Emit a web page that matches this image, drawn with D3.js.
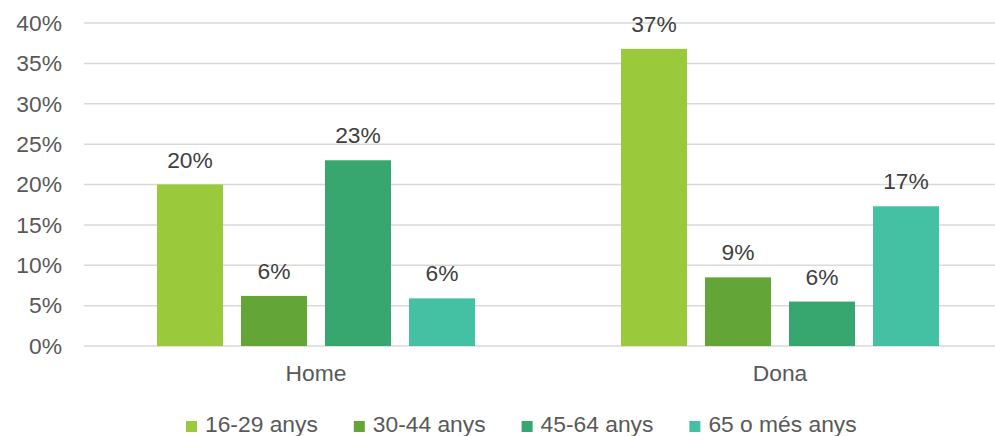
<!DOCTYPE html>
<html><head><meta charset="utf-8">
<script src="https://cdn.jsdelivr.net/npm/d3@7"></script>
<style>body{margin:0;background:#fff}svg{display:block;font-family:"Liberation Sans",Arial,sans-serif}</style>
</head><body><svg id="c" width="995" height="436"></svg>
<script>
const categories = ["Home", "Dona"];
const seriesNames = ["16-29 anys", "30-44 anys", "45-64 anys", "65 o més anys"];
const values16_29 = [20.0, 36.8];
const values30_44 = [6.2, 8.5];
const values45_64 = [23.0, 5.5];
const values65 = [5.9, 17.3];
const yTicks = [0, 5, 10, 15, 20, 25, 30, 35, 40];
const colors = ["#9ACA3C", "#63A537", "#37A76F", "#44C1A3"];

(function () {
const series = [values16_29, values30_44, values45_64, values65];
const svg = d3.select("#c");
const mLeft = 84, mRight = 1012, mTop = 23, mBottom = 346;
const fs = 22.8;

const y = d3.scaleLinear().domain([0, 40]).range([mBottom, mTop]);
const x0 = d3.scaleBand().domain(categories).range([mLeft, mRight]).paddingInner(0).paddingOuter(0);
const x1 = d3.scaleBand().domain(seriesNames).range([73, x0.bandwidth() - 73]).paddingInner(18/84).paddingOuter(0);

svg.append("g").selectAll("line").data(yTicks).join("line")
  .attr("x1", mLeft).attr("x2", mRight)
  .attr("y1", d => y(d)).attr("y2", d => y(d))
  .attr("stroke", "#D9D9D9").attr("stroke-width", 1.5);

const yAxis = d3.axisLeft(y).tickValues(yTicks).tickFormat(d => d + "%").tickSize(0).tickPadding(22);
const ya = svg.append("g").attr("transform", `translate(${mLeft},0)`).call(yAxis);
ya.select(".domain").remove();
ya.selectAll("text").attr("font-size", fs).attr("fill", "#595959").attr("font-family", "Liberation Sans, Arial, sans-serif");

const xAxis = d3.axisBottom(x0).tickSize(0).tickPadding(19);
const xa = svg.append("g").attr("transform", `translate(0,${mBottom})`).call(xAxis);
xa.select(".domain").remove();
xa.selectAll("text").attr("font-size", fs).attr("fill", "#595959").attr("font-family", "Liberation Sans, Arial, sans-serif");

const groups = svg.append("g").selectAll("g").data(categories).join("g")
  .attr("transform", d => `translate(${x0(d)},0)`);
groups.each(function(cat, ci) {
  const g = d3.select(this);
  const data = seriesNames.map((s, si) => ({s, si, v: series[si][ci]}));
  g.selectAll("rect").data(data).join("rect")
    .attr("x", d => x1(d.s)).attr("width", x1.bandwidth())
    .attr("y", d => y(d.v)).attr("height", d => y(0) - y(d.v))
    .attr("fill", d => colors[d.si]);
  g.selectAll("text").data(data).join("text")
    .attr("x", d => x1(d.s) + x1.bandwidth() / 2)
    .attr("y", d => y(d.v) - 17)
    .attr("text-anchor", "middle")
    .attr("font-size", fs).attr("fill", "#404040")
    .text(d => Math.round(d.v) + "%");
});

const legend = svg.append("g");
let lx = 186;
seriesNames.forEach((s, i) => {
  legend.append("rect").attr("x", lx).attr("y", 421).attr("width", 11).attr("height", 11).attr("fill", colors[i]);
  const t = legend.append("text").attr("x", lx + 19).attr("y", 432)
    .attr("font-size", fs).attr("fill", "#595959").text(s);
  lx += 19 + t.node().getComputedTextLength() + 36;
});
})();
</script></body></html>
